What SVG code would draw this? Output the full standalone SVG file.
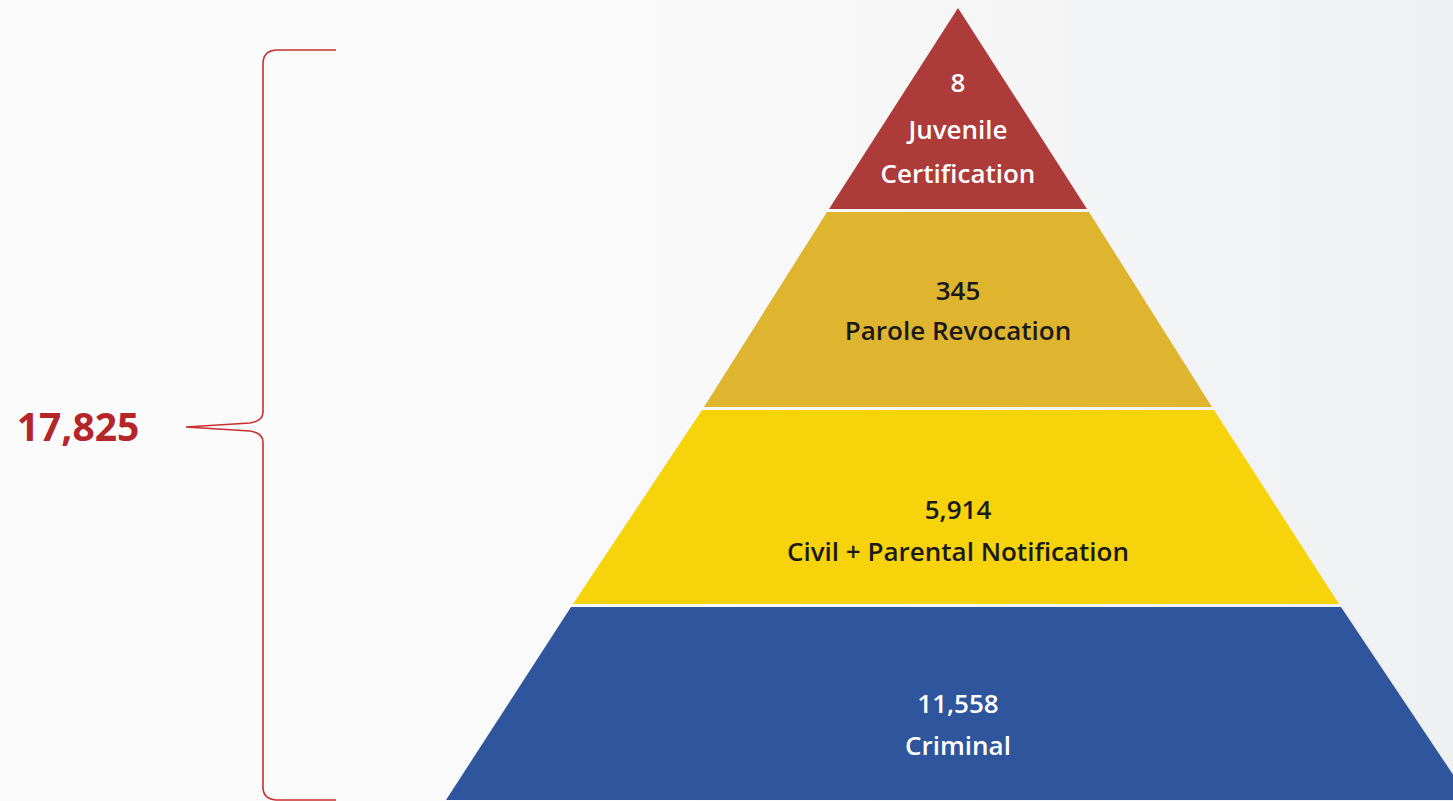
<svg xmlns="http://www.w3.org/2000/svg" width="1453" height="801" viewBox="0 0 1453 801">
<style>
.lbl{font-family:"Open Sans","Noto Sans",sans-serif;font-weight:600;font-size:26px;text-anchor:middle}
.w{fill:#ffffff}
.d{fill:#1a1a1a}
</style>
<defs>
<linearGradient id="bg" x1="0" y1="0" x2="1" y2="0">
<stop offset="0" stop-color="#fbfbfb"/>
<stop offset="0.5" stop-color="#f9f9f9"/>
<stop offset="1" stop-color="#eff0f2"/>
</linearGradient>
</defs>
<rect width="1453" height="801" fill="url(#bg)"/>
<g id="connectors">
<path d="M336 50 L276 50 Q263 51 263 64 L263 412 Q263 421 250 423 L186 427 L250 431 Q263 433 263 442 L263 787 Q263 799 276 800 L336 800" fill="none" stroke="#c8302c" stroke-width="1.6"/>
</g>
<g id="total">
<text x="78" y="441" font-family="'Open Sans','Noto Sans',sans-serif" font-weight="700" font-size="39" fill="#b5262a" text-anchor="middle">17,825</text>
</g>
<g id="juvenile">
<polygon points="958,8 1087,209 829,209" fill="#ad3b39"/>
<text class="lbl w" x="958" y="92">8</text>
<text class="lbl w" x="958" y="139">Juvenile</text>
<text class="lbl w" x="958" y="183">Certification</text>
</g>
<g id="parole">
<polygon points="827,212 1089,212 1212,407 704,407" fill="#dfb52f"/>
<text class="lbl d" x="958" y="300">345</text>
<text class="lbl d" x="958" y="340">Parole Revocation</text>
</g>
<g id="civil">
<polygon points="702,410 1214,410 1339,604 573,604" fill="#f7d30c"/>
<text class="lbl d" x="958" y="519">5,914</text>
<text class="lbl d" x="958" y="561">Civil + Parental Notification</text>
</g>
<g id="criminal">
<polygon points="571,607 1341,607 1470,800 446,800" fill="#2f569d"/>
<text class="lbl w" x="958" y="713">11,558</text>
<text class="lbl w" x="958" y="755">Criminal</text>
</g>
</svg>
